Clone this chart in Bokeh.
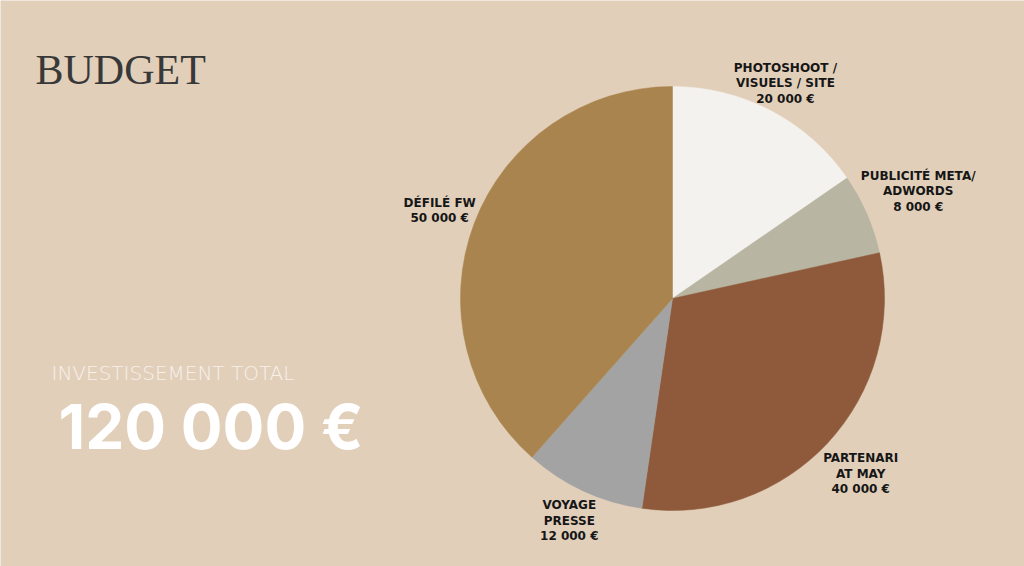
import numpy as np
from bokeh.plotting import figure
from bokeh.models import Range1d, ColumnDataSource
from bokeh.core.properties import value
from bokeh.embed import file_html
from bokeh.resources import INLINE

# ---- data ----
categories = ["PHOTOSHOOT /\nVISUELS / SITE", "PUBLICITÉ META/\nADWORDS",
              "PARTENARI\nAT MAY", "VOYAGE\nPRESSE", "DÉFILÉ FW"]
amounts = [20000, 8000, 40000, 12000, 50000]
amount_labels = ["20 000 €", "8 000 €", "40 000 €", "12 000 €", "50 000 €"]
title_text = "BUDGET"
total_caption = "INVESTISSEMENT TOTAL"
total_value = "120 000 €"

# ---- style ----
slice_colors = ["#F4F2EE", "#B8B6A2", "#8E5A3B", "#A3A3A3", "#AA844E"]
label_radius = [243, 268, 257, 245, 249]
BG = "#E1CFBA"
W, H = 1024, 566
CX, CY, R = 672, 268, 212

vals = np.array(amounts, dtype=float)
frac = vals / vals.sum()
cum = np.cumsum(frac)
start = np.pi / 2 - 2 * np.pi * (cum - frac)
end = np.pi / 2 - 2 * np.pi * cum
mid = (start + end) / 2

src = ColumnDataSource(dict(
    start=start, end=end, color=slice_colors,
    lx=CX + np.array(label_radius) * np.cos(mid),
    ly=CY + np.array(label_radius) * np.sin(mid),
    label=[c + "\n" + a for c, a in zip(categories, amount_labels)],
))

p = figure(width=W, height=H, output_backend="svg", toolbar_location=None,
           x_range=Range1d(0, W), y_range=Range1d(0, H), min_border=0,
           background_fill_color=BG, border_fill_color=BG, outline_line_color=None)
p.axis.visible = False
p.grid.visible = False

p.wedge(x=CX, y=CY, radius=R, start_angle="start", end_angle="end",
        direction="clock", fill_color="color", line_color="color",
        line_width=0.5, source=src)

p.text(x="lx", y="ly", text="label", source=src, text_align="center",
       text_baseline="middle", text_font=value("DejaVu Sans"),
       text_font_style="bold", text_font_size="12px", text_line_height=1.1,
       text_color="#161616")

p.text(x=[35], y=[497], text=[title_text], text_font=value("Liberation Serif"),
       text_font_size="42px", text_color="#383838", text_align="left",
       text_baseline="alphabetic")

p.text(x=[51], y=[194], text=[total_caption],
       text_font=value("'DejaVu Sans Light', 'Lato Light', Lato"),
       text_font_size="20px", text_color="#F7F1EA", text_align="left",
       text_baseline="alphabetic")

p.text(x=[58], y=[140], text=[total_value], text_font=value("Inter"),
       text_font_style="bold", text_font_size="62px", text_color="#FFFFFF",
       text_align="left", text_baseline="alphabetic")

html = file_html(p, INLINE)
html = html.replace("<body>", '<body style="background-color:%s;">' % BG, 1)
open("out.html", "w").write(html)
